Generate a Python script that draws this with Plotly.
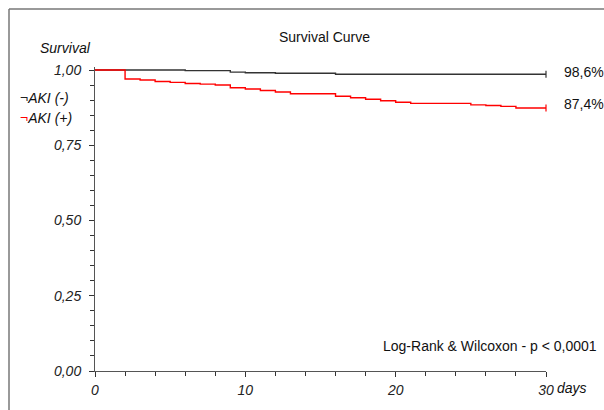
import plotly.graph_objects as go

# ---- data ----
days_neg = [0, 6, 9, 10, 12, 16, 30]
surv_neg = [1.000, 0.998, 0.993, 0.991, 0.989, 0.986, 0.986]

days_pos = [0, 2, 3, 4, 5, 6, 7, 8, 9, 10, 11, 12, 13, 16, 17, 18, 19, 20, 21, 25, 26, 27, 28, 30]
surv_pos = [1.000, 0.970, 0.967, 0.962, 0.959, 0.955, 0.953, 0.950, 0.941, 0.937, 0.932, 0.927,
            0.921, 0.913, 0.908, 0.903, 0.898, 0.893, 0.889, 0.884, 0.882, 0.879, 0.874, 0.874]

y_ticks = [0, 0.25, 0.5, 0.75, 1.0]
y_tick_labels = ["0,00", "0,25", "0,50", "0,75", "1,00"]
x_ticks = [0, 10, 20, 30]
x_tick_labels = ["0", "10", "20", "30"]

final_neg_label = "98,6%"
final_pos_label = "87,4%"

W, H = 604, 410
L, R, T, B = 95, 58, 67, 39
PW, PH = W - L - R, H - T - B
Y_ONE_PX = 70                      # pixel row of survival = 1.00
Y_ZERO_PX = H - B                  # pixel row of survival = 0.00
Y_TOP = (Y_ZERO_PX - T) / (Y_ZERO_PX - Y_ONE_PX)   # small headroom so the 1.00 line is not clipped

def px(p):
    return (p - L) / PW

def py(p):
    return (H - B - p) / PH

FONT = "Liberation Sans, Arial, sans-serif"

fig = go.Figure()
fig.add_trace(go.Scatter(x=days_neg, y=surv_neg, mode="lines", line=dict(color="#333333", width=1.4, shape="hv"),
                         showlegend=False))
fig.add_trace(go.Scatter(x=days_pos, y=surv_pos, mode="lines", line=dict(color="#ff0000", width=1.4, shape="hv"),
                         showlegend=False))
# censor marks at the end
fig.add_trace(go.Scatter(x=[days_neg[-1]], y=[surv_neg[-1]], mode="markers",
                         marker=dict(symbol="line-ns", size=5, line=dict(color="#333333", width=1.2)),
                         cliponaxis=False, showlegend=False))
fig.add_trace(go.Scatter(x=[days_pos[-1]], y=[surv_pos[-1]], mode="markers",
                         marker=dict(symbol="line-ns", size=5, line=dict(color="#ff0000", width=1.2)),
                         cliponaxis=False, showlegend=False))

axis_common = dict(showgrid=False, zeroline=False, showline=True, linecolor="#555555", linewidth=1,
                   ticks="outside", ticklen=5, tickcolor="#333333", tickwidth=1,
                   tickfont=dict(family=FONT, size=14, color="#222222", style="italic"))

fig.update_xaxes(range=[0, 30], tickvals=x_ticks, ticktext=x_tick_labels,
                 minor=dict(dtick=2, tick0=0, ticks="outside", ticklen=4, tickcolor="#333333"),
                 ticklabelstandoff=1, **axis_common)
fig.update_yaxes(range=[0, Y_TOP], tickvals=y_ticks, ticktext=y_tick_labels,
                 minor=dict(dtick=0.05, tick0=0, ticks="outside", ticklen=4, tickcolor="#333333"),
                 ticklabelstandoff=5, **axis_common)

def note(text, xp, yp, xanchor="left", italic=False):
    f = dict(family=FONT, size=14, color="#111111")
    if italic:
        f["style"] = "italic"
    return dict(text=text, x=px(xp), y=py(yp), xref="paper", yref="paper",
                xanchor=xanchor, yanchor="middle", showarrow=False, font=f)

ann = [
    note("Survival Curve", 324, 37, "center"),
    note("Survival", 93, 48, "right", True),
    note("days", 555, 388, "left", True),
    note("<span style='color:#222222'>¬</span>AKI (-)", 18, 98, "left", True),
    note("<span style='color:#ff0000'>¬</span>AKI (+)", 18, 118, "left", True),
    note(final_neg_label, 562, 72, "left"),
    note(final_pos_label, 562, 104, "left"),
    note("Log-Rank & Wilcoxon - p < 0,0001", 599, 346, "right"),
]

shapes = [
    dict(type="line", xref="paper", yref="paper", x0=px(9), x1=px(9), y0=py(9), y1=py(412),
         line=dict(color="#777777", width=1.5)),
    dict(type="line", xref="paper", yref="paper", x0=px(9), x1=px(606), y0=py(9), y1=py(9),
         line=dict(color="#777777", width=1.5)),
]

fig.update_layout(width=W, height=H, margin=dict(l=L, r=R, t=T, b=B),
                  paper_bgcolor="white", plot_bgcolor="white",
                  annotations=ann, shapes=shapes, showlegend=False)

fig.write_html("out.html", config={"displayModeBar": False},
               post_script="document.body.style.margin='0';document.body.style.overflow='hidden';")
